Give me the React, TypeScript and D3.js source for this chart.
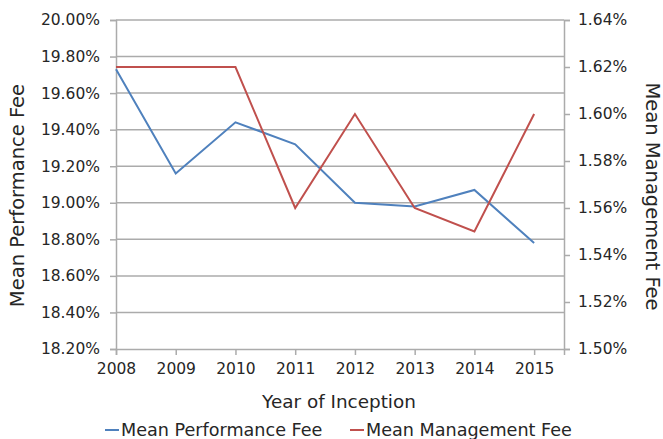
import { useEffect, useRef } from "react";
import * as d3 from "d3";

const WIDTH = 663;
const HEIGHT = 439;
const MARGIN = { top: 20, right: 99, bottom: 90, left: 116 };

const years = [2008, 2009, 2010, 2011, 2012, 2013, 2014, 2015];
const performanceFee = [19.73, 19.16, 19.44, 19.32, 19.0, 18.98, 19.07, 18.78];
const managementFee = [1.62, 1.62, 1.62, 1.56, 1.6, 1.56, 1.55, 1.6];
const leftTicks = [18.2, 18.4, 18.6, 18.8, 19.0, 19.2, 19.4, 19.6, 19.8, 20.0];
const rightTicks = [1.5, 1.52, 1.54, 1.56, 1.58, 1.6, 1.62, 1.64];

const FONT = "DejaVu Sans, sans-serif";
const TEXT = "#262626";
const GRID = "#ababab";
const BLUE = "#4f81bd";
const RED = "#c0504d";

export default function App() {
  const svgRef = useRef<SVGSVGElement | null>(null);

  useEffect(() => {
    if (!svgRef.current) return;
    const svg = d3.select(svgRef.current);
    svg.selectAll("*").remove();

    const x0 = MARGIN.left;
    const x1 = WIDTH - MARGIN.right;
    const y0 = HEIGHT - MARGIN.bottom;
    const y1 = MARGIN.top;

    // points sit on ticks, the axis runs half a slot past the last year
    const x = d3.scaleLinear().domain([2008, 2015.5]).range([x0, x1]);
    const yL = d3.scaleLinear().domain([18.2, 20.0]).range([y0, y1]);
    const yR = d3.scaleLinear().domain([1.5, 1.64]).range([y0, y1]);

    // Grid lines
    svg.append("g")
      .selectAll("line")
      .data(leftTicks.slice(1))
      .join("line")
      .attr("x1", x0)
      .attr("x2", x1)
      .attr("y1", (d) => yL(d))
      .attr("y2", (d) => yL(d))
      .attr("stroke", GRID)
      .attr("stroke-width", 1.5);

    // Left axis
    const left = svg.append("g").attr("transform", `translate(${x0},0)`)
      .call(d3.axisLeft(yL).tickValues(leftTicks).tickSize(6).tickPadding(10)
        .tickFormat((d) => `${(+d).toFixed(2)}%`));
    left.select(".domain").attr("stroke", GRID).attr("stroke-width", 1.5);
    left.selectAll(".tick line").attr("stroke", GRID).attr("stroke-width", 1.5);
    left.selectAll("text").style("font-size", "15.5px").style("font-family", FONT).attr("fill", TEXT);

    // Right axis
    const right = svg.append("g").attr("transform", `translate(${x1},0)`)
      .call(d3.axisRight(yR).tickValues(rightTicks).tickSize(6).tickPadding(8)
        .tickFormat((d) => `${(+d).toFixed(2)}%`));
    right.select(".domain").attr("stroke", GRID).attr("stroke-width", 1.5);
    right.selectAll(".tick line").attr("stroke", GRID).attr("stroke-width", 1.5);
    right.selectAll("text").style("font-size", "15.5px").style("font-family", FONT).attr("fill", TEXT);

    // Bottom axis
    const bottom = svg.append("g").attr("transform", `translate(0,${y0})`)
      .call(d3.axisBottom(x).tickValues(years).tickSize(6).tickPadding(8).tickFormat((d) => `${d}`));
    bottom.select(".domain").attr("stroke", GRID).attr("stroke-width", 1.5);
    bottom.selectAll(".tick line").attr("stroke", GRID).attr("stroke-width", 1.5);
    bottom.selectAll("text").style("font-size", "15.5px").style("font-family", FONT).attr("fill", TEXT);

    // Lines
    const perfLine = d3.line<number>().x((_, i) => x(years[i])).y((d) => yL(d));
    const mgmtLine = d3.line<number>().x((_, i) => x(years[i])).y((d) => yR(d));

    svg.append("path")
      .datum(performanceFee)
      .attr("fill", "none")
      .attr("stroke", BLUE)
      .attr("stroke-width", 2)
      .attr("d", perfLine);

    svg.append("path")
      .datum(managementFee)
      .attr("fill", "none")
      .attr("stroke", RED)
      .attr("stroke-width", 2)
      .attr("d", mgmtLine);

    // Axis titles
    svg.append("text")
      .attr("transform", `translate(24,${(y0 + y1) / 2 + 11}) rotate(-90)`)
      .attr("text-anchor", "middle")
      .style("font-size", "19.5px")
      .style("font-family", FONT)
      .attr("fill", TEXT)
      .text("Mean Performance Fee");

    svg.append("text")
      .attr("transform", `translate(646,${(y0 + y1) / 2 + 12}) rotate(90)`)
      .attr("text-anchor", "middle")
      .style("font-size", "19.5px")
      .style("font-family", FONT)
      .attr("fill", TEXT)
      .text("Mean Management Fee");

    svg.append("text")
      .attr("x", 339)
      .attr("y", 408)
      .attr("text-anchor", "middle")
      .style("font-size", "18.4px")
      .style("font-family", FONT)
      .attr("fill", TEXT)
      .text("Year of Inception");

    // Legend
    [
      { color: BLUE, label: "Mean Performance Fee", lx: 105 },
      { color: RED, label: "Mean Management Fee", lx: 350 },
    ].forEach(({ color, label, lx }) => {
      svg.append("line")
        .attr("x1", lx).attr("x2", lx + 14)
        .attr("y1", 430).attr("y2", 430)
        .attr("stroke", color).attr("stroke-width", 2);
      svg.append("text")
        .attr("x", lx + 16)
        .attr("y", 436)
        .style("font-size", "17.6px")
        .style("font-family", FONT)
        .attr("fill", TEXT)
        .text(label);
    });
  }, []);

  return (
    <svg
      ref={svgRef}
      width={WIDTH}
      height={HEIGHT}
      style={{ position: "absolute", left: 0, top: 0, background: "#fff" }}
    />
  );
}
